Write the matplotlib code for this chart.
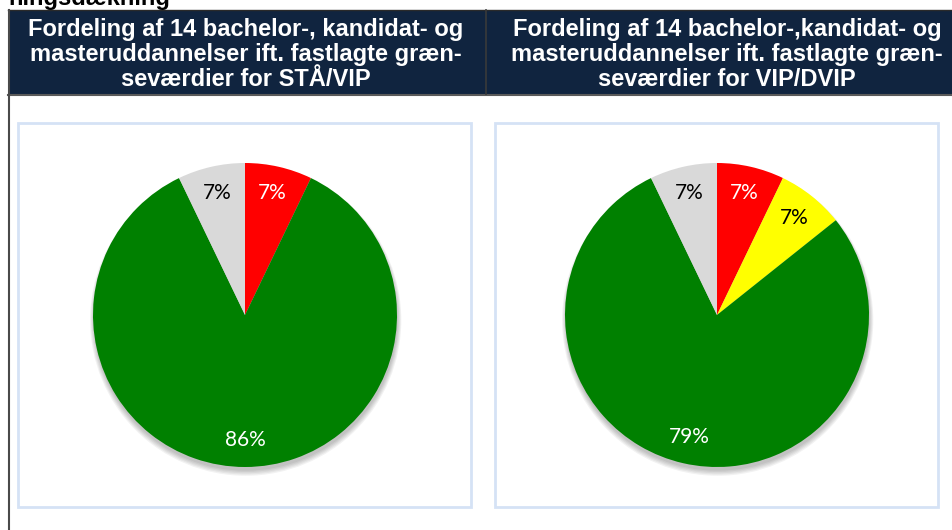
import matplotlib
matplotlib.use("Agg")
import matplotlib.pyplot as plt
from matplotlib.patches import Rectangle, Circle
from matplotlib.lines import Line2D

# ---- data ----
left_title = "Fordeling af 14 bachelor-, kandidat- og\nmasteruddannelser ift. fastlagte græn-\nseværdier for STÅ/VIP"
right_title = "Fordeling af 14 bachelor-,kandidat- og\nmasteruddannelser ift. fastlagte græn-\nseværdier for VIP/DVIP"
top_cut_text = "ningsdækning"

left_categories = ["Rød", "Grøn", "Grå"]
left_values = [1, 12, 1]
left_colors = ["#ff0000", "#008000", "#d9d9d9"]
left_textcolors = ["white", "white", "black"]

right_categories = ["Rød", "Gul", "Grøn", "Grå"]
right_values = [1, 1, 11, 1]
right_colors = ["#ff0000", "#ffff00", "#008000", "#d9d9d9"]
right_textcolors = ["white", "black", "white", "black"]

W, H = 952, 530
fig = plt.figure(figsize=(W / 100, H / 100), dpi=100)
fig.patch.set_facecolor("white")


def fx(x):
    return x / W


def fy(y):
    return 1 - y / H


def rect_px(x0, y0, x1, y1, **kw):
    r = Rectangle((fx(x0), fy(y1)), (x1 - x0) / W, (y1 - y0) / H,
                  transform=fig.transFigure, **kw)
    fig.add_artist(r)
    return r


def line_px(xs, ys, **kw):
    l = Line2D([fx(x) for x in xs], [fy(y) for y in ys],
               transform=fig.transFigure, **kw)
    fig.add_artist(l)


# cut-off text at top
fig.text(fx(8), fy(5), top_cut_text, fontsize=17, fontweight="bold",
         family="Liberation Sans", color="black", ha="left", va="baseline")

# header band
navy = "#10243f"
rect_px(8, 10, 952, 94, facecolor=navy, edgecolor="none", zorder=-2)
line_px([8, 952], [10, 10], color="#2a2a2a", lw=1.0)
line_px([8, 952], [94.5, 94.5], color="#5a5a5a", lw=1.5)
line_px([486, 486], [10, 94], color="#3a3a3a", lw=1.2)
line_px([8.5, 8.5], [10, 530], color="#4a4a4a", lw=1.5)

for cx, title in [(246, left_title), (727, right_title)]:
    fig.text(fx(cx), fy(54.5), title, fontsize=17, fontweight="bold",
             family="Liberation Sans", color="white", ha="center",
             va="center", linespacing=1.13, multialignment="center")

# chart frames
frame_col = "#d5e2f5"
rect_px(18, 123, 471, 507, facecolor="white", edgecolor=frame_col, lw=2, zorder=-2)
rect_px(495, 123, 938, 507, facecolor="white", edgecolor=frame_col, lw=2, zorder=-2)


def draw_pie(cx, cy, r, values, colors, textcolors):
    pad = 20
    ax = fig.add_axes([fx(cx - r - pad), fy(cy + r + pad),
                       (2 * r + 2 * pad) / W, (2 * r + 2 * pad) / H])
    ax.set_axis_off()
    ax.set_zorder(5)
    scale = r / (r + pad)
    # soft shadow
    for i in range(5):
        ax.add_patch(Circle((0.004, -0.022 - 0.002 * i), scale * (1.0 + 0.006 * i),
                            facecolor="black", alpha=0.05, edgecolor="none", zorder=0))
    wedges, texts, autotexts = ax.pie(
        values, colors=colors, startangle=90, counterclock=False,
        radius=scale, autopct=lambda p: f"{p:.0f}%", pctdistance=0.82,
        wedgeprops=dict(linewidth=0),
        textprops=dict(fontsize=15, family="Lato"))
    for w in wedges:
        w.set_zorder(2)
    for t, c in zip(autotexts, textcolors):
        t.set_color(c)
        t.set_zorder(3)
    ax.set_xlim(-1, 1)
    ax.set_ylim(-1, 1)
    ax.set_aspect("equal")


draw_pie(245, 315, 152, left_values, left_colors, left_textcolors)
draw_pie(717, 315, 152, right_values, right_colors, right_textcolors)

fig.savefig("out.png", dpi=100)
